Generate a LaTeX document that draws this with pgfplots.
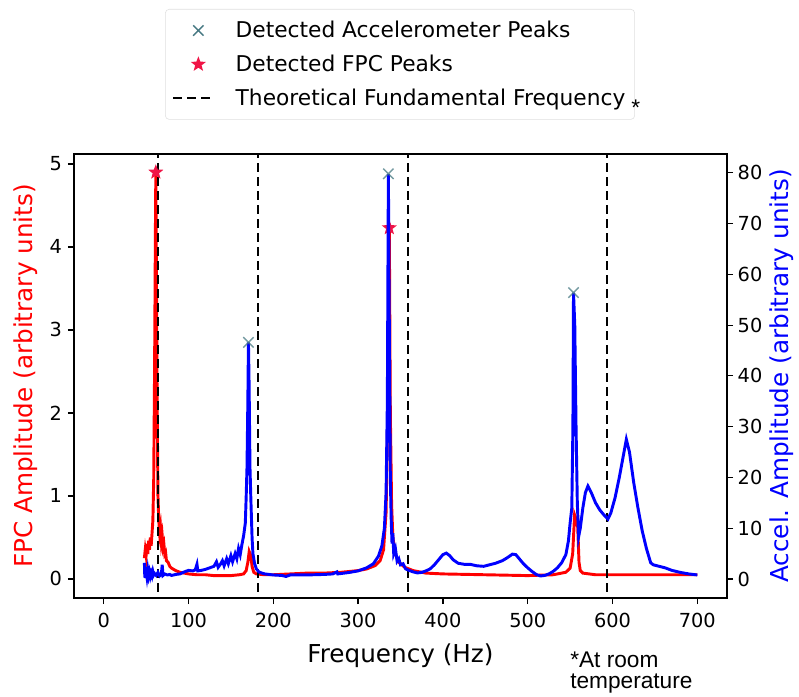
\documentclass[border=0pt]{standalone}
\usepackage{fontspec}
\setmainfont{DejaVu Sans}
\newfontfamily\arial{Liberation Sans}
\usepackage{pgfplots}
\pgfplotsset{compat=1.18}

\definecolor{fpcred}{RGB}{255,0,0}
\definecolor{accblue}{RGB}{0,0,255}
\definecolor{xcol}{RGB}{70,120,130}
\definecolor{starcol}{RGB}{240,20,70}

% filled five-pointed star (matplotlib '*')
\pgfdeclareplotmark{fstar}{%
  \pgfpathmoveto{\pgfpointpolar{90}{\pgfplotmarksize}}%
  \pgfpathlineto{\pgfpointpolar{126}{0.42\pgfplotmarksize}}%
  \pgfpathlineto{\pgfpointpolar{162}{\pgfplotmarksize}}%
  \pgfpathlineto{\pgfpointpolar{198}{0.42\pgfplotmarksize}}%
  \pgfpathlineto{\pgfpointpolar{234}{\pgfplotmarksize}}%
  \pgfpathlineto{\pgfpointpolar{270}{0.42\pgfplotmarksize}}%
  \pgfpathlineto{\pgfpointpolar{306}{\pgfplotmarksize}}%
  \pgfpathlineto{\pgfpointpolar{342}{0.42\pgfplotmarksize}}%
  \pgfpathlineto{\pgfpointpolar{18}{\pgfplotmarksize}}%
  \pgfpathlineto{\pgfpointpolar{54}{0.42\pgfplotmarksize}}%
  \pgfpathclose\pgfusepathqfill}

\pgfplotsset{
  mleg/.style={legend image code/.code={\path[draw=none,fill=none] (0pt,-6pt) rectangle (45pt,6pt); \draw[##1] plot[only marks] coordinates {(19pt,0pt)};}},
  lleg/.style={legend image code/.code={\path[draw=none,fill=none] (0pt,-6pt) rectangle (45pt,6pt); \draw[##1] (0pt,0pt) -- (30pt,0pt);}},
  base/.style={
    scale only axis, width=489.75pt, height=333pt,
    xmin=-35, xmax=735,
    tick align=outside, major tick length=4.5pt,
    axis line style={line width=0.9pt},
    every tick/.style={line width=0.9pt, black},
    ticklabel style={font=\fontsize{14.5}{17}\selectfont},
    /pgf/number format/assume math mode=true,
    label style={font=\fontsize{18.5}{22}\selectfont},
  },
}

\begin{document}
\begin{tikzpicture}
\useasboundingbox (-55.5pt,-73.5pt) rectangle (543.75pt,448.5pt);

% left axis: FPC amplitude, values in units of 1e-4
\begin{axis}[base,
  ymin=-0.23, ymax=5.12, ytick={0,1,2,3,4,5}, ytick pos=left,
  xtick={0,100,...,700}, xtick pos=bottom,
  xticklabel style={yshift=-3.5pt},
  yticklabel style={xshift=-1pt},
  xlabel={Frequency (Hz)},
  ylabel={FPC Amplitude (arbitrary units)},
  xlabel style={at={([yshift=-48pt]rel axis cs:0.5,0)}, anchor=base},
  ylabel style={at={([xshift=-36pt]rel axis cs:0,0.5)}, rotate=0, anchor=center, fpcred},
]
\addplot[fpcred, line width=2.2pt] coordinates {
(48,0.25)(49,0.35)(50,0.28)(51,0.42)(52,0.3)(53,0.46)(54,0.35)(55,0.5)(56,0.4)(57,0.55)
(58,0.7)(59,1.2)(60,2.5)(61,4.2)(61.5,4.9)(62,4.0)(63,2.2)(64,1.0)(65,0.7)(66,0.55)
(67,0.62)(68,0.45)(69,0.52)(70,0.38)(71,0.42)(72,0.3)(73,0.32)(74,0.22)(76,0.2)(78,0.15)
(80,0.13)(85,0.1)(90,0.08)(100,0.06)(110,0.05)(120,0.05)(130,0.04)(140,0.04)(150,0.04)
(160,0.05)(165,0.06)(168,0.1)(170,0.2)(171.6,0.33)(173.5,0.28)(175,0.15)(177,0.08)(180,0.06)
(190,0.05)(200,0.05)(220,0.06)(240,0.07)(260,0.07)(280,0.08)(300,0.1)(310,0.12)(320,0.16)
(326,0.22)(330,0.35)(333,0.8)(335,2.0)(336.8,4.23)(338,2.0)(339.5,0.9)(341,0.5)(344,0.3)
(348,0.2)(355,0.14)(365,0.1)(380,0.07)(400,0.06)(450,0.05)(500,0.04)(530,0.05)(545,0.08)
(550,0.13)(553,0.3)(555.3,0.77)(557,0.72)(559,0.62)(560.5,0.2)(562,0.1)(565,0.07)(580,0.05)
(620,0.05)(660,0.05)(700,0.05)
};
\addplot[black, line width=1.6pt, dash pattern=on 7pt off 3.5pt] coordinates {(64.5,-1)(64.5,6)};
\addplot[black, line width=1.6pt, dash pattern=on 7pt off 3.5pt] coordinates {(181.5,-1)(181.5,6)};
\addplot[black, line width=1.6pt, dash pattern=on 7pt off 3.5pt] coordinates {(358.5,-1)(358.5,6)};
\addplot[black, line width=1.6pt, dash pattern=on 7pt off 3.5pt] coordinates {(593,-1)(593,6)};
\addplot[only marks, mark=fstar, mark size=6pt, starcol] coordinates {(61.5,4.9)(336.8,4.23)};
\node[anchor=base west, inner sep=0pt, font=\fontsize{14.5}{17}\selectfont] at ([yshift=4.5pt]rel axis cs:0,1) {1e−4};
\end{axis}

% right axis: accelerometer amplitude
\begin{axis}[base,
  ymin=-3.74, ymax=83.7, ytick={0,10,...,80}, ytick pos=right, yticklabel pos=right,
  xtick=\empty,
  ylabel={Accel. Amplitude (arbitrary units)},
  ylabel style={at={([xshift=41.25pt]rel axis cs:1,0.5)}, rotate=0, anchor=center, accblue},
  legend cell align=left,
  legend style={at={(rel axis cs:0.1394,1.3266)}, anchor=north west,
    draw=gray!25, rounded corners=3pt, fill=white,
    font=\fontsize{16.3}{19}\selectfont, row sep=7.5pt, inner xsep=5pt, inner ysep=7pt},
]
\addlegendimage{mleg, mark=x, mark size=5.5pt, line width=1pt, xcol}
\addlegendentry{Detected Accelerometer Peaks}
\addlegendimage{mleg, mark=fstar, mark size=6pt, starcol}
\addlegendentry{Detected FPC Peaks}
\addlegendimage{lleg, black, line width=1.6pt, dash pattern=on 7pt off 3.5pt}
\addlegendentry{Theoretical Fundamental Frequency}
\addplot[accblue, line width=2.2pt, forget plot] coordinates {
(48,3.2)(48.5,0.3)(49,2.4)(49.5,0.2)(50,1.6)(51,0.4)(52,1.8)(53,0.6)(54,1.4)(55,0.5)
(56,1.2)(57,0.6)(58,1.5)(59,0.8)(60,1.1)(62,0.7)(64,1.3)(66,0.6)(68,0.9)(69,2.8)(70,0.7)
(72,1.0)(75,0.8)(78,0.9)(80,0.7)(85,0.9)(90,1.0)(95,1.4)(100,1.7)(105,1.6)(108,1.8)
(110,2.9)(111,1.6)(115,1.7)(120,1.9)(125,2.2)(130,2.5)(133,3.4)(135,2.3)(138,3.0)(140,3.6)
(142,2.6)(145,4.0)(147,3.0)(150,4.6)(152,3.4)(155,5.0)(157,4.0)(159,6.0)(161,4.8)(163,6.8)
(165,8.5)(167,11)(168,16)(169,22)(170,35)(170.7,46.6)(171.5,38)(172.5,22)(173.5,16)(175,8)
(176,5)(178,3)(180,2)(183,1.4)(186,1.2)(190,1.0)(195,0.9)(200,0.8)(210,0.7)(215,0.5)
(220,0.8)(240,0.8)(260,0.9)(270,1.0)(275,1.4)(276,1.0)(290,1.3)(300,1.6)(310,2.2)(318,3.0)
(324,4.5)(328,6.5)(331,10)(333,17)(334.5,35)(335.7,79.8)(337,45)(338,20)(339,12)(340,7)
(341,9)(342,5)(344,6)(346,3.5)(348,4)(350,2.8)(353,3)(356,2)(360,1.7)(365,1.4)(370,1.2)
(375,1.3)(380,1.6)(385,2.0)(390,2.8)(395,3.8)(400,4.8)(404,5.1)(408,4.6)(412,3.8)(418,3.1)
(425,2.9)(432,2.9)(440,2.6)(448,2.5)(455,2.8)(462,3.1)(470,3.6)(476,4.2)(482,4.9)(486,4.8)
(490,4.0)(495,3.0)(500,2.2)(505,1.5)(510,0.9)(515,0.6)(520,0.7)(525,1.0)(530,1.5)(535,2.2)
(540,3.2)(545,4.8)(548,7.5)(550,11)(552,14)(553.3,30)(554,56.4)(555.5,50)(557,30)(558.5,15)
(560,8.3)(562,10)(565,14)(568,17)(571,18.3)(575,17)(580,15)(585,13.6)(590,12.6)(594.6,11.8)
(598,13)(603,16)(608,20)(613,24.5)(616.3,27.5)(620,25)(625,19)(630,14)(635,9.5)(640,6)
(645,3.2)(648,2.8)(655,2.5)(662,2.2)(670,1.7)(680,1.3)(690,1.0)(700,0.8)
};
\addplot[only marks, mark=x, mark size=5.5pt, line width=1pt, xcol, opacity=0.75, forget plot]
  coordinates {(170.7,46.6)(335.7,79.8)(554,56.4)};
\end{axis}

\node[anchor=base west, inner sep=0pt, font=\arial\fontsize{17}{17}\selectfont] at (417.75pt,361.5pt) {*};
\node[anchor=base west, inner sep=0pt, font=\arial\fontsize{17}{17}\selectfont] at (372pt,-51.75pt) {*At room};
\node[anchor=base west, inner sep=0pt, font=\arial\fontsize{17}{17}\selectfont] at (372pt,-67.5pt) {temperature};
\end{tikzpicture}
\end{document}
